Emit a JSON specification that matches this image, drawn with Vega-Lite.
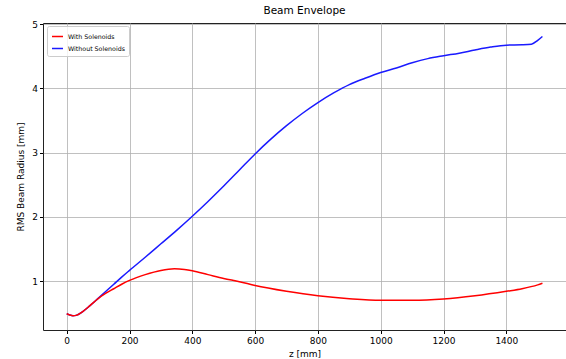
{
  "$schema": "https://vega.github.io/schema/vega-lite/v6.json",
  "width": 523,
  "height": 307,
  "autosize": {"type": "none"},
  "padding": {"left": 43, "top": 23, "right": 0, "bottom": 29},
  "title": {"text": "Beam Envelope", "font": "DejaVu Sans", "fontSize": 10.5, "fontWeight": "normal", "color": "#000", "offset": 4},
  "config": {
    "view": {"stroke": "#222", "strokeWidth": 1},
    "axis": {"labelFont": "DejaVu Sans", "titleFont": "DejaVu Sans", "labelFontSize": 9, "titleFontSize": 9, "titleFontWeight": "normal", "labelColor": "#000", "titleColor": "#000", "gridColor": "#b0b0b0", "gridWidth": 0.8, "tickColor": "#000", "tickSize": 3.5, "domain": false}
  },
  "data": {"values": [
    {"z": 0, "r": 0.49, "s": "Without Solenoids"},
    {"z": 10, "r": 0.47, "s": "Without Solenoids"},
    {"z": 20, "r": 0.46, "s": "Without Solenoids"},
    {"z": 30, "r": 0.465, "s": "Without Solenoids"},
    {"z": 50, "r": 0.52, "s": "Without Solenoids"},
    {"z": 75, "r": 0.62, "s": "Without Solenoids"},
    {"z": 100, "r": 0.73, "s": "Without Solenoids"},
    {"z": 125, "r": 0.84, "s": "Without Solenoids"},
    {"z": 150, "r": 0.95, "s": "Without Solenoids"},
    {"z": 175, "r": 1.06, "s": "Without Solenoids"},
    {"z": 200, "r": 1.165, "s": "Without Solenoids"},
    {"z": 250, "r": 1.37, "s": "Without Solenoids"},
    {"z": 300, "r": 1.58, "s": "Without Solenoids"},
    {"z": 350, "r": 1.79, "s": "Without Solenoids"},
    {"z": 400, "r": 2.01, "s": "Without Solenoids"},
    {"z": 450, "r": 2.24, "s": "Without Solenoids"},
    {"z": 500, "r": 2.48, "s": "Without Solenoids"},
    {"z": 550, "r": 2.73, "s": "Without Solenoids"},
    {"z": 600, "r": 2.98, "s": "Without Solenoids"},
    {"z": 650, "r": 3.21, "s": "Without Solenoids"},
    {"z": 700, "r": 3.42, "s": "Without Solenoids"},
    {"z": 750, "r": 3.61, "s": "Without Solenoids"},
    {"z": 800, "r": 3.78, "s": "Without Solenoids"},
    {"z": 850, "r": 3.93, "s": "Without Solenoids"},
    {"z": 900, "r": 4.06, "s": "Without Solenoids"},
    {"z": 950, "r": 4.16, "s": "Without Solenoids"},
    {"z": 1000, "r": 4.25, "s": "Without Solenoids"},
    {"z": 1050, "r": 4.32, "s": "Without Solenoids"},
    {"z": 1100, "r": 4.40, "s": "Without Solenoids"},
    {"z": 1150, "r": 4.465, "s": "Without Solenoids"},
    {"z": 1200, "r": 4.51, "s": "Without Solenoids"},
    {"z": 1250, "r": 4.55, "s": "Without Solenoids"},
    {"z": 1300, "r": 4.60, "s": "Without Solenoids"},
    {"z": 1350, "r": 4.645, "s": "Without Solenoids"},
    {"z": 1400, "r": 4.675, "s": "Without Solenoids"},
    {"z": 1450, "r": 4.68, "s": "Without Solenoids"},
    {"z": 1480, "r": 4.69, "s": "Without Solenoids"},
    {"z": 1500, "r": 4.75, "s": "Without Solenoids"},
    {"z": 1515, "r": 4.81, "s": "Without Solenoids"},
    {"z": 0, "r": 0.49, "s": "With Solenoids"},
    {"z": 10, "r": 0.47, "s": "With Solenoids"},
    {"z": 20, "r": 0.46, "s": "With Solenoids"},
    {"z": 30, "r": 0.465, "s": "With Solenoids"},
    {"z": 50, "r": 0.52, "s": "With Solenoids"},
    {"z": 75, "r": 0.62, "s": "With Solenoids"},
    {"z": 100, "r": 0.725, "s": "With Solenoids"},
    {"z": 125, "r": 0.81, "s": "With Solenoids"},
    {"z": 150, "r": 0.88, "s": "With Solenoids"},
    {"z": 175, "r": 0.95, "s": "With Solenoids"},
    {"z": 200, "r": 1.01, "s": "With Solenoids"},
    {"z": 250, "r": 1.10, "s": "With Solenoids"},
    {"z": 300, "r": 1.165, "s": "With Solenoids"},
    {"z": 343, "r": 1.19, "s": "With Solenoids"},
    {"z": 375, "r": 1.18, "s": "With Solenoids"},
    {"z": 400, "r": 1.16, "s": "With Solenoids"},
    {"z": 450, "r": 1.10, "s": "With Solenoids"},
    {"z": 500, "r": 1.04, "s": "With Solenoids"},
    {"z": 550, "r": 0.99, "s": "With Solenoids"},
    {"z": 600, "r": 0.93, "s": "With Solenoids"},
    {"z": 700, "r": 0.84, "s": "With Solenoids"},
    {"z": 800, "r": 0.77, "s": "With Solenoids"},
    {"z": 900, "r": 0.725, "s": "With Solenoids"},
    {"z": 1000, "r": 0.70, "s": "With Solenoids"},
    {"z": 1100, "r": 0.70, "s": "With Solenoids"},
    {"z": 1200, "r": 0.72, "s": "With Solenoids"},
    {"z": 1300, "r": 0.77, "s": "With Solenoids"},
    {"z": 1400, "r": 0.84, "s": "With Solenoids"},
    {"z": 1450, "r": 0.88, "s": "With Solenoids"},
    {"z": 1500, "r": 0.94, "s": "With Solenoids"},
    {"z": 1515, "r": 0.965, "s": "With Solenoids"}
  ]},
  "mark": {"type": "line", "strokeWidth": 1.5, "interpolate": "monotone", "clip": true},
  "encoding": {
    "x": {"field": "z", "type": "quantitative", "title": "z [mm]", "scale": {"domain": [-75.5, 1590], "nice": false, "zero": false},
      "axis": {"values": [0, 200, 400, 600, 800, 1000, 1200, 1400], "format": "d", "titlePadding": 4, "labelPadding": 3}},
    "y": {"field": "r", "type": "quantitative", "title": "RMS Beam Radius [mm]", "scale": {"domain": [0.237, 5.02], "nice": false, "zero": false},
      "axis": {"values": [1, 2, 3, 4, 5], "titlePadding": 6, "labelPadding": 2}},
    "color": {"field": "s", "type": "nominal", "scale": {"domain": ["With Solenoids", "Without Solenoids"], "range": ["#ff0000", "#1a1aff"]},
      "legend": {"title": null, "orient": "none", "legendX": 4, "legendY": 3, "symbolType": "stroke", "symbolStrokeWidth": 1.5, "symbolSize": 120, "labelFont": "DejaVu Sans", "labelFontSize": 6.3, "labelColor": "#000", "rowPadding": 2, "padding": 4, "fillColor": "rgba(255,255,255,0.8)", "strokeColor": "#cccccc", "cornerRadius": 2}}
  }
}
